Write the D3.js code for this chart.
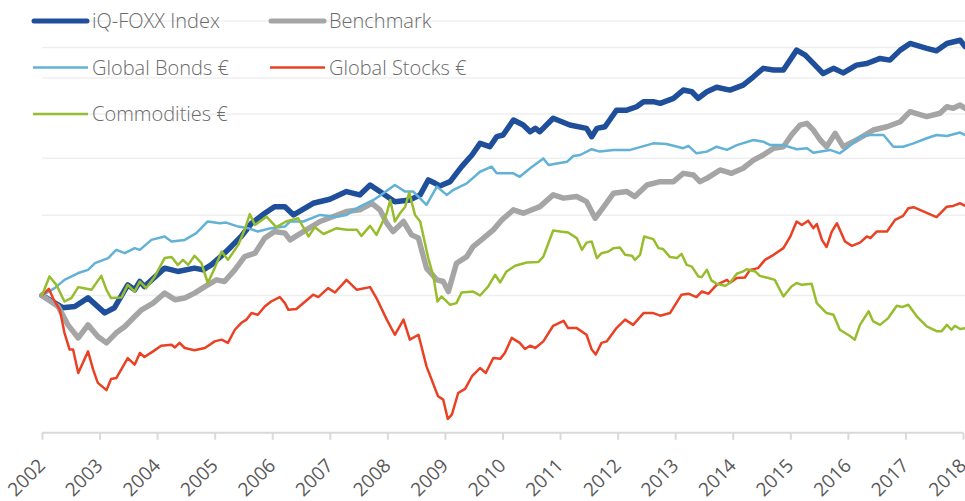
<!DOCTYPE html>
<html>
<head>
<meta charset="utf-8">
<script src="https://cdn.jsdelivr.net/npm/d3@7/dist/d3.min.js"></script>
<style>
  body { margin: 0; background: #fff; }
  svg { display: block; font-family: "Open Sans", "DejaVu Sans", sans-serif; }
</style>
</head>
<body>
<svg id="chart" width="965" height="501"></svg>
<script>
// yearly tick labels and index gridlines (index = 100 at start)
const years = d3.range(2002, 2019);
const gridLevels = [100, 150, 200, 250, 300, 350, 400];

// [decimal year, index level]
const iqFoxx = [
  [2002.00,100],[2002.36,94],[2002.57,94.6],[2002.80,98.8],[2003.09,91.6],[2003.26,94],
  [2003.49,105.5],[2003.61,102.9],[2003.70,107.3],[2003.78,104.6],[2004.13,114.8],[2004.36,112.9],
  [2004.65,114.8],[2004.80,113.8],[2004.94,116.7],[2005.14,122.8],[2005.29,128.1],[2005.46,134.7],
  [2005.64,144],[2005.87,151.5],[2006.04,156.6],[2006.22,156.6],[2006.37,150.2],[2006.71,159.3],
  [2007.00,162.6],[2007.29,169],[2007.52,166.2],[2007.70,174.7],[2007.87,169],[2008.13,160.6],
  [2008.39,162],[2008.57,166.2],[2008.71,179.2],[2008.83,176.2],[2008.91,173.9],[2009.09,177.7],
  [2009.29,191.7],[2009.47,203.3],[2009.61,215.6],[2009.78,212],[2009.90,223],[2010.01,224.9],
  [2010.19,242.6],[2010.36,236.5],[2010.48,228.7],[2010.57,232.6],[2010.65,228.7],[2010.88,244.7],
  [2011.03,240.5],[2011.17,236.5],[2011.46,232.6],[2011.55,223],[2011.64,232.6],[2011.78,234.5],
  [2011.98,254.9],[2012.16,254.9],[2012.33,259.4],[2012.45,266.1],[2012.62,266.1],[2012.74,263.9],
  [2012.97,270.6],[2013.14,282.2],[2013.29,279.8],[2013.40,270.6],[2013.55,279.8],[2013.72,286.3],
  [2013.95,282.2],[2014.18,289.4],[2014.36,301.8],[2014.53,314.9],[2014.71,312.2],[2014.88,312.2],
  [2015.11,345.3],[2015.26,336.7],[2015.40,322.8],[2015.57,306.9],[2015.75,314.9],[2015.92,307.8],
  [2016.15,320.1],[2016.33,322.8],[2016.56,331.1],[2016.73,328.3],[2016.91,345.3],[2017.08,357.1],
  [2017.37,348.4],[2017.54,344.1],[2017.72,357.1],[2017.95,363],[2018.04,351.3]
];

const benchmark = [
  [2002.00,100],[2002.28,94.6],[2002.45,86.2],[2002.63,80.7],[2002.80,86.2],[2002.97,81.3],
  [2003.12,78.7],[2003.29,82.8],[2003.44,85.5],[2003.61,89.9],[2003.73,93],[2003.93,96.2],
  [2004.13,101.2],[2004.31,97.9],[2004.48,98.7],[2004.65,101.2],[2004.83,104.6],[2005.03,108.2],
  [2005.17,107.3],[2005.35,113.8],[2005.52,121.7],[2005.70,123.8],[2005.87,133.6],[2006.04,138.1],
  [2006.22,137],[2006.31,132.4],[2006.54,138.1],[2006.83,145.3],[2007.29,152.8],[2007.52,154.1],
  [2007.73,159.3],[2007.87,154.1],[2007.99,144],[2008.10,138.1],[2008.28,145.3],[2008.42,135.8],
  [2008.54,133.6],[2008.68,114.8],[2008.86,108.2],[2008.97,107.3],[2009.06,102],[2009.20,117.7],
  [2009.38,121.7],[2009.49,128],[2009.67,133.6],[2009.84,139.3],[2009.99,146.5],[2010.19,154.1],
  [2010.36,151.5],[2010.65,156.6],[2010.88,166.2],[2011.06,163.5],[2011.29,164.8],[2011.46,160.6],
  [2011.61,147.7],[2011.72,154.1],[2011.93,167.6],[2012.16,169],[2012.30,164.8],[2012.51,174.7],
  [2012.74,177.7],[2012.97,177.7],[2013.14,185.3],[2013.32,183.7],[2013.43,177.7],[2013.55,180.7],
  [2013.78,188.5],[2013.98,185.3],[2014.18,190.1],[2014.36,198.1],[2014.53,203.3],[2014.71,210.4],
  [2014.88,212],[2015.02,224.9],[2015.17,236.5],[2015.29,238.6],[2015.40,230.6],[2015.52,219.3],
  [2015.63,212],[2015.78,226.8],[2015.92,212],[2016.15,219.3],[2016.44,230.6],[2016.68,234.5],
  [2016.91,240.5],[2017.08,253],[2017.37,246.8],[2017.60,251],[2017.72,259.4],[2017.83,257.3],
  [2017.95,261.6],[2018.04,257.3]
];

const globalBonds = [
  [2002.00,100],[2002.22,103.8],[2002.39,108.2],[2002.63,112],[2002.80,113.8],[2002.92,117.7],
  [2003.15,120.8],[2003.29,125.9],[2003.44,123.8],[2003.61,127],[2003.70,125.9],[2003.90,132.4],
  [2004.13,134.7],[2004.25,131.3],[2004.48,132.4],[2004.68,137],[2004.88,145.3],[2005.09,144],
  [2005.20,144.5],[2005.41,141.6],[2005.58,140.5],[2005.75,138.1],[2005.98,140.5],[2006.22,141.6],
  [2006.31,145.3],[2006.54,145.3],[2006.83,150.2],[2007.12,148.9],[2007.29,150.2],[2007.52,156.6],
  [2007.76,162],[2007.93,167.6],[2008.13,174.7],[2008.31,169],[2008.45,169],[2008.68,158],
  [2008.86,173.3],[2009.03,166.2],[2009.15,170.5],[2009.38,176.2],[2009.61,186.8],[2009.81,191.7],
  [2009.90,185.3],[2010.19,185.3],[2010.30,182.1],[2010.48,190.1],[2010.71,199.8],[2010.80,193.2],
  [2011.12,196.4],[2011.23,202.3],[2011.35,203.3],[2011.55,209.3],[2011.69,206.8],[2011.93,208.6],
  [2012.22,208.6],[2012.62,215.6],[2012.85,214.9],[2013.14,210.4],[2013.23,212.8],[2013.37,205],
  [2013.55,206.8],[2013.72,212],[2013.90,208.6],[2014.07,213.7],[2014.36,219.3],[2014.53,217.4],
  [2014.65,213.7],[2014.88,213.7],[2015.11,209.3],[2015.29,210.4],[2015.40,205.7],[2015.69,208.6],
  [2015.86,205],[2015.98,210.4],[2016.21,223],[2016.39,224.9],[2016.62,224.9],[2016.79,212],
  [2016.96,212],[2017.14,215.6],[2017.37,221.2],[2017.54,224.9],[2017.72,223.8],[2017.95,227.7],
  [2018.04,224.9]
];

const globalStocks = [
  [2002.00,100],[2002.12,103.4],[2002.19,98.7],[2002.31,93],[2002.39,82.8],[2002.48,76.1],
  [2002.54,76.1],[2002.63,67.6],[2002.80,75.4],[2002.89,68.7],[2002.97,64.3],[2003.12,62],
  [2003.20,65.6],[2003.29,65.9],[2003.49,72.9],[2003.61,70.5],[2003.70,74.8],[2003.78,73.3],
  [2003.93,75.4],[2004.07,77.6],[2004.25,78],[2004.31,76.9],[2004.39,78.7],[2004.48,76.7],
  [2004.65,75.8],[2004.83,76.7],[2005.00,79.3],[2005.12,80],[2005.23,78.7],[2005.35,84.1],
  [2005.46,87],[2005.55,88.5],[2005.64,91.5],[2005.75,90.7],[2005.87,94.6],[2005.98,97],
  [2006.13,99.2],[2006.22,96.2],[2006.28,93],[2006.42,93.4],[2006.71,100.4],[2006.80,99.2],
  [2006.97,103.8],[2007.09,101.5],[2007.29,108.2],[2007.47,102.9],[2007.70,104.3],[2007.81,98.7],
  [2007.99,88.5],[2008.13,82],[2008.28,88.5],[2008.39,80],[2008.54,82],[2008.68,69.9],
  [2008.88,60.1],[2008.97,59.1],[2009.05,53.6],[2009.12,54.8],[2009.23,61.1],[2009.35,62.4],
  [2009.47,66.5],[2009.61,69.3],[2009.71,67.6],[2009.84,72.9],[2009.96,72.6],[2010.04,74.8],
  [2010.16,80.7],[2010.30,78.7],[2010.39,76.3],[2010.48,77.6],[2010.57,76.7],[2010.71,79.3],
  [2010.88,85.8],[2011.06,88],[2011.14,84.8],[2011.29,84.8],[2011.46,82],[2011.55,76.1],
  [2011.62,74.2],[2011.72,78.7],[2011.81,79.3],[2011.98,84.8],[2012.13,88.5],[2012.27,86.2],
  [2012.45,91.5],[2012.62,91.5],[2012.74,90.3],[2012.91,91.5],[2013.11,100.4],[2013.23,100.9],
  [2013.37,99.2],[2013.46,102],[2013.58,100.9],[2013.72,105.5],[2013.90,108.2],[2013.95,106.5],
  [2014.07,109.2],[2014.21,109.5],[2014.30,113.8],[2014.44,114.8],[2014.56,119.7],[2014.71,122.8],
  [2014.88,127],[2015.00,134.7],[2015.11,145.3],[2015.20,142.8],[2015.31,145.9],[2015.40,140.5],
  [2015.46,143.5],[2015.55,132.4],[2015.63,127.7],[2015.72,138.1],[2015.81,144],[2015.95,131.3],
  [2016.07,128.5],[2016.21,130.6],[2016.33,134.7],[2016.39,133.6],[2016.50,138.1],[2016.68,138.1],
  [2016.82,146.5],[2016.96,149.5],[2017.05,155.4],[2017.14,156.2],[2017.54,148.5],[2017.72,156.6],
  [2017.83,157.2],[2017.95,159.3],[2018.04,157.2]
];

const commodities = [
  [2002.00,100],[2002.13,110.1],[2002.25,105.5],[2002.39,97],[2002.51,98.7],[2002.63,104.3],
  [2002.71,103.8],[2002.86,102.9],[2003.03,110.4],[2003.12,102.9],[2003.20,98.7],[2003.38,99],
  [2003.49,105.5],[2003.61,102],[2003.70,107.3],[2003.81,103.8],[2003.96,110.1],[2004.13,120.8],
  [2004.25,121.4],[2004.36,116.7],[2004.45,119.7],[2004.54,116.7],[2004.65,122.2],[2004.77,117.7],
  [2004.88,106.5],[2005.00,114.8],[2005.12,124.9],[2005.23,119.7],[2005.41,129.1],[2005.52,139.3],
  [2005.61,150.8],[2005.70,142.8],[2005.90,148.9],[2006.07,141.2],[2006.24,145.3],[2006.45,147.7],
  [2006.63,134.7],[2006.74,141.2],[2006.89,136.4],[2007.12,140.5],[2007.29,139.3],[2007.47,139.3],
  [2007.55,135.1],[2007.70,142.1],[2007.81,135.8],[2007.99,151.5],[2008.05,162],[2008.13,145.3],
  [2008.22,151.5],[2008.31,156.6],[2008.38,168.1],[2008.48,150.2],[2008.57,145.3],[2008.71,120.8],
  [2008.80,110.1],[2008.87,97],[2008.94,99.5],[2009.09,95.4],[2009.20,96.2],[2009.29,101.5],
  [2009.49,102],[2009.61,100],[2009.75,104.6],[2009.87,111],[2009.96,106.8],[2010.07,112.9],
  [2010.22,116.2],[2010.42,118.1],[2010.62,118.4],[2010.71,121.7],[2010.88,138.8],[2011.00,138.1],
  [2011.14,137.4],[2011.29,133.6],[2011.38,125.9],[2011.46,130.6],[2011.55,131.3],[2011.64,120.8],
  [2011.72,123.8],[2011.84,124.9],[2011.93,127],[2012.04,127.4],[2012.13,122.8],[2012.25,122.2],
  [2012.30,119.7],[2012.39,122.8],[2012.46,134.7],[2012.62,132.9],[2012.71,127],[2012.79,126.4],
  [2012.91,121.4],[2013.03,120.8],[2013.11,123.4],[2013.20,116.7],[2013.29,115.7],[2013.40,110.1],
  [2013.46,109.7],[2013.55,113.8],[2013.63,107.9],[2013.72,106.1],[2013.87,105],[2013.95,106.5],
  [2014.07,111.6],[2014.18,112.9],[2014.24,114.2],[2014.39,112.9],[2014.47,110.4],[2014.62,109.2],
  [2014.73,108.2],[2014.88,99.5],[2015.02,104.6],[2015.11,106.5],[2015.20,105.5],[2015.37,106.1],
  [2015.46,96.2],[2015.63,91.5],[2015.75,90.7],[2015.86,84.1],[2016.03,81.6],[2016.12,80],
  [2016.21,86.2],[2016.36,92.3],[2016.44,87.7],[2016.56,86.2],[2016.70,89.2],[2016.85,94.9],
  [2016.94,94.3],[2017.05,95.4],[2017.20,89.9],[2017.37,85.5],[2017.54,83.5],[2017.63,83.5],
  [2017.72,86.2],[2017.80,84.1],[2017.86,85.8],[2017.95,84.4],[2018.04,84.8]
];

const seriesNames = ["iQ-FOXX Index", "Benchmark", "Global Bonds €", "Global Stocks €", "Commodities €"];

const series = [
  { name: seriesNames[0], data: iqFoxx, color: "#1f4e9b", width: 5.5 },
  { name: seriesNames[1], data: benchmark, color: "#a5a5a5", width: 5.5 },
  { name: seriesNames[2], data: globalBonds, color: "#62b1d6", width: 2.5 },
  { name: seriesNames[3], data: globalStocks, color: "#ea4124", width: 2.5 },
  { name: seriesNames[4], data: commodities, color: "#97bd2e", width: 2.5 }
];

const width = 965, height = 501;
const plotLeft = 42, plotRight = 963, plotTop = 21, plotBottom = 432.7;

const svg = d3.select("#chart");

const x = d3.scaleLinear().domain([2002, 2018]).range([plotLeft, plotRight]);
const y = d3.scaleLog().domain([50, 400]).range([plotBottom, plotTop]);

// horizontal gridlines
svg.append("g")
  .selectAll("line")
  .data(gridLevels)
  .join("line")
  .attr("x1", plotLeft)
  .attr("x2", width)
  .attr("y1", (d) => y(d))
  .attr("y2", (d) => y(d))
  .attr("stroke", "#efefef")
  .attr("stroke-width", 1.5);

// x axis
const xAxis = svg.append("g")
  .attr("transform", `translate(0,${plotBottom})`)
  .call(d3.axisBottom(x).tickValues(years).tickFormat(d3.format("d")).tickSize(7).tickSizeOuter(0))
  .attr("font-size", 19)
  .attr("font-family", null);

xAxis.select(".domain")
  .attr("d", `M${plotLeft},0H${plotRight}`)
  .attr("stroke", "#d9d9d9")
  .attr("stroke-width", 2);
xAxis.selectAll(".tick line")
  .attr("stroke", "#d9d9d9")
  .attr("stroke-width", 2);
xAxis.selectAll(".tick text")
  .attr("fill", "#595959")
  .attr("text-anchor", "end")
  .attr("y", 0)
  .attr("dy", 0)
  .attr("transform", "translate(4,34) rotate(-45)");

// lines
const line = d3.line()
  .x((d) => x(d[0]))
  .y((d) => y(d[1]));

svg.append("defs").append("clipPath").attr("id", "plot")
  .append("rect").attr("x", plotLeft - 4).attr("y", 0).attr("width", width).attr("height", plotBottom);

svg.append("g")
  .attr("clip-path", "url(#plot)")
  .selectAll("path")
  .data(series)
  .join("path")
  .attr("d", (d) => line(d.data))
  .attr("fill", "none")
  .attr("stroke", (d) => d.color)
  .attr("stroke-width", (d) => d.width)
  .attr("stroke-linejoin", "round")
  .attr("stroke-linecap", "round");

// legend
const legendPos = [[33, 21], [270, 21], [33, 67.5], [270, 67.5], [33, 114]];
const legend = svg.append("g")
  .selectAll("g")
  .data(series)
  .join("g")
  .attr("transform", (d, i) => `translate(${legendPos[i][0]},${legendPos[i][1]})`);

legend.append("line")
  .attr("x1", (d) => (d.width > 3 ? 1 : 0))
  .attr("x2", (d) => (d.width > 3 ? 54 : 55))
  .attr("stroke", (d) => d.color)
  .attr("stroke-width", (d) => (d.width > 3 ? 5 : 2.5))
  .attr("stroke-linecap", (d) => (d.width > 3 ? "round" : "butt"));

legend.append("text")
  .attr("x", 59)
  .attr("dy", "0.35em")
  .attr("fill", "#6b6b6b")
  .attr("font-size", 20)
  .attr("font-weight", 300)
  .text((d) => d.name);
</script>
</body>
</html>
